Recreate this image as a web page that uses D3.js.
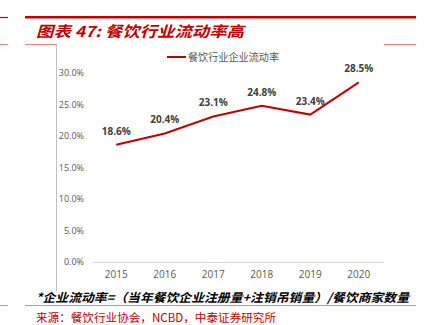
<!DOCTYPE html>
<html><head><meta charset="utf-8">
<script src="https://cdn.jsdelivr.net/npm/d3@7"></script>
<style>
html,body{margin:0;padding:0;background:#fff;}
svg{display:block;}
</style></head>
<body>
<svg id="c" width="445" height="325"></svg>
<script>
const years = ["2015","2016","2017","2018","2019","2020"];
const rates = [18.6, 20.4, 23.1, 24.8, 23.4, 28.5];
const yTicks = [0, 5, 10, 15, 20, 25, 30];
const seriesName = "餐饮行业企业流动率";
const titleText = "图表 47: 餐饮行业流动率高";
const noteText = "*企业流动率=（当年餐饮企业注册量+注销吊销量）/餐饮商家数量";
const sourceText = "来源：餐饮行业协会，NCBD，中泰证券研究所";

const svg = d3.select("#c");
const red = "#c00000";
const pink = "#f08080";

// frame lines
svg.append("line").attr("x1",0).attr("x2",8).attr("y1",17.5).attr("y2",17.5).attr("stroke",red).attr("stroke-width",1.2);
svg.append("line").attr("x1",25).attr("x2",416).attr("y1",17.3).attr("y2",17.3).attr("stroke",red).attr("stroke-width",2.5);
[[0,8],[25,57],[384,416]].forEach(([a,b])=>{
  svg.append("line").attr("x1",a).attr("x2",b).attr("y1",44.5).attr("y2",44.5).attr("stroke",pink).attr("stroke-width",1);
});
svg.append("line").attr("x1",56.5).attr("x2",56.5).attr("y1",44.5).attr("y2",291).attr("stroke","#bfbfbf").attr("stroke-width",1);
[[0,8],[25,416]].forEach(([a,b])=>{
  svg.append("line").attr("x1",a).attr("x2",b).attr("y1",305.5).attr("y2",305.5).attr("stroke",pink).attr("stroke-width",1);
});

// title
svg.append("text").attr("x",36).attr("y",37)
  .attr("font-family","'Noto Sans CJK SC'").attr("font-weight","bold").attr("font-style","italic")
  .attr("font-size",15).attr("fill",red).attr("textLength",208).attr("lengthAdjust","spacingAndGlyphs")
  .text(titleText);

// scales
const x = d3.scaleBand().domain(years).range([92, 383]);
const y = d3.scaleLinear().domain([0, 30]).range([262, 73]);

// x axis
const xAxis = svg.append("g").attr("transform","translate(0,262)")
  .call(d3.axisBottom(x).tickSize(0).tickPadding(9));
xAxis.select(".domain").attr("stroke","#d9d9d9").attr("stroke-width",1);
xAxis.selectAll("text").attr("font-family","'Open Sans'").attr("font-size",10).attr("fill","#595959");

// y axis
const yAxis = svg.append("g").attr("transform","translate(84,0)")
  .call(d3.axisLeft(y).tickValues(yTicks).tickSize(0).tickPadding(0).tickFormat(d=>d.toFixed(1)+"%"));
yAxis.select(".domain").remove();
yAxis.selectAll("text").attr("font-family","'Open Sans'").attr("font-size",9).attr("fill","#595959");

// line
const line = d3.line().x((d,i)=>x(years[i])+x.bandwidth()/2).y(d=>y(d));
svg.append("path").datum(rates).attr("d",line).attr("fill","none").attr("stroke",red).attr("stroke-width",2);

// data labels
svg.selectAll(".lbl").data(rates).enter().append("text")
  .attr("x",(d,i)=>x(years[i])+x.bandwidth()/2)
  .attr("y",d=>y(d)-10)
  .attr("text-anchor","middle")
  .attr("font-family","'Open Sans'").attr("font-weight","bold").attr("font-size",10).attr("fill","#404040")
  .text(d=>d.toFixed(1)+"%");

// legend
svg.append("line").attr("x1",167).attr("x2",186).attr("y1",57).attr("y2",57).attr("stroke",red).attr("stroke-width",2);
svg.append("text").attr("x",188).attr("y",61).attr("font-family","'Noto Sans CJK SC'").attr("font-size",10)
  .attr("fill","#595959").attr("textLength",91).attr("lengthAdjust","spacingAndGlyphs").text(seriesName);

// footnote
svg.append("text").attr("x",36).attr("y",302)
  .attr("font-family","'Noto Sans CJK SC'").attr("font-weight","bold").attr("font-style","italic")
  .attr("font-size",12).attr("fill","#000").attr("textLength",373).attr("lengthAdjust","spacingAndGlyphs")
  .text(noteText);

// source
svg.append("text").attr("x",36).attr("y",322)
  .attr("font-family","'Noto Sans CJK SC'").attr("font-size",11.5).attr("fill",red)
  .attr("textLength",240).attr("lengthAdjust","spacingAndGlyphs")
  .text(sourceText);
</script>
</body></html>
